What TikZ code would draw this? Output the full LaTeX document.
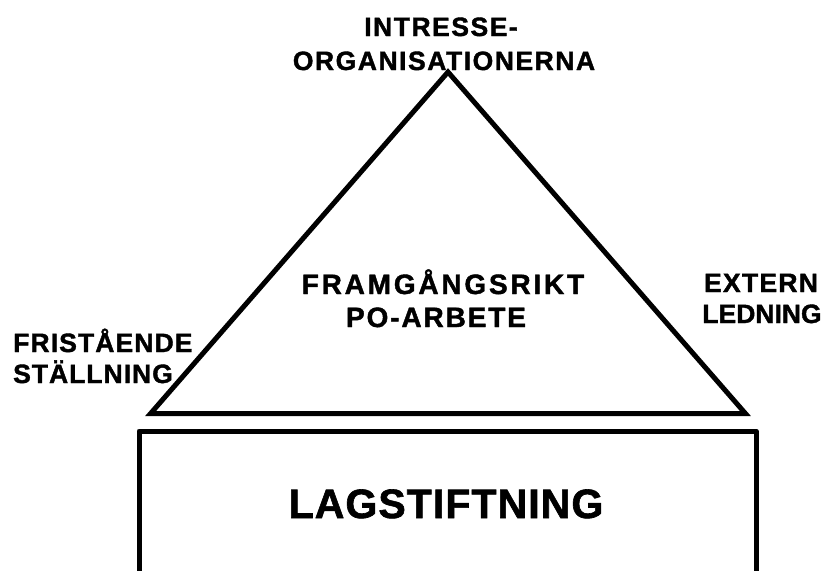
\documentclass[tikz,border=0pt]{standalone}
\usepackage{fontspec}
\setmainfont{Liberation Sans}
% heavy spaced capitals: #1 size (pt), #2 letter spacing (% of size)
\newcommand{\spaced}[3]{\fontsize{#1}{#1}\selectfont\bfseries\addfontfeature{LetterSpace=#2,FakeBold=1.5}#3}
\begin{document}
\begin{tikzpicture}[x=1pt,y=-1pt,
  frame/.style={line width=5pt,line join=miter},
  box/.style={line width=5pt,line join=round},
  lbl/.style={inner sep=0pt,anchor=base}]
\useasboundingbox (0,0) rectangle (826,570);
% triangle corners
\coordinate (apex) at (448,72);
\coordinate (bl) at (150.6,413.5);
\coordinate (br) at (745.4,413.5);
\draw[frame] (bl) -- (apex) -- (br) -- cycle;
% open box below the triangle
\coordinate (b1) at (139,575);
\coordinate (b2) at (139,431);
\coordinate (b3) at (756,431);
\coordinate (b4) at (756,575);
\draw[box] (b1) -- (b2) -- (b3) -- (b4);
% labels
\node[lbl] (t1) at (441,36) {\spaced{26.5}{5.7}{INTRESSE-}};
\node[lbl] (t2) at (444,70) {\spaced{26.5}{5.8}{ORGANISATIONERNA}};
\node[lbl] (c1) at (443,294) {\spaced{28}{10}{FRAMGÅNGSRIKT}};
\node[lbl] (c2) at (436,327) {\spaced{28}{6.7}{PO-ARBETE}};
\node[lbl,anchor=base west] (l1) at (13,352) {\spaced{26.5}{4.2}{FRISTÅENDE}};
\node[lbl,anchor=base west] (l2) at (13,383) {\spaced{26.5}{3.8}{STÄLLNING}};
\node[lbl] (r1) at (761,292) {\spaced{26.5}{4.9}{EXTERN}};
\node[lbl] (r2) at (762,323) {\spaced{26.5}{0}{LEDNING}};
\node[lbl] (lag) at (446,518) {\spaced{41}{2.6}{LAGSTIFTNING}};
\end{tikzpicture}
\end{document}
